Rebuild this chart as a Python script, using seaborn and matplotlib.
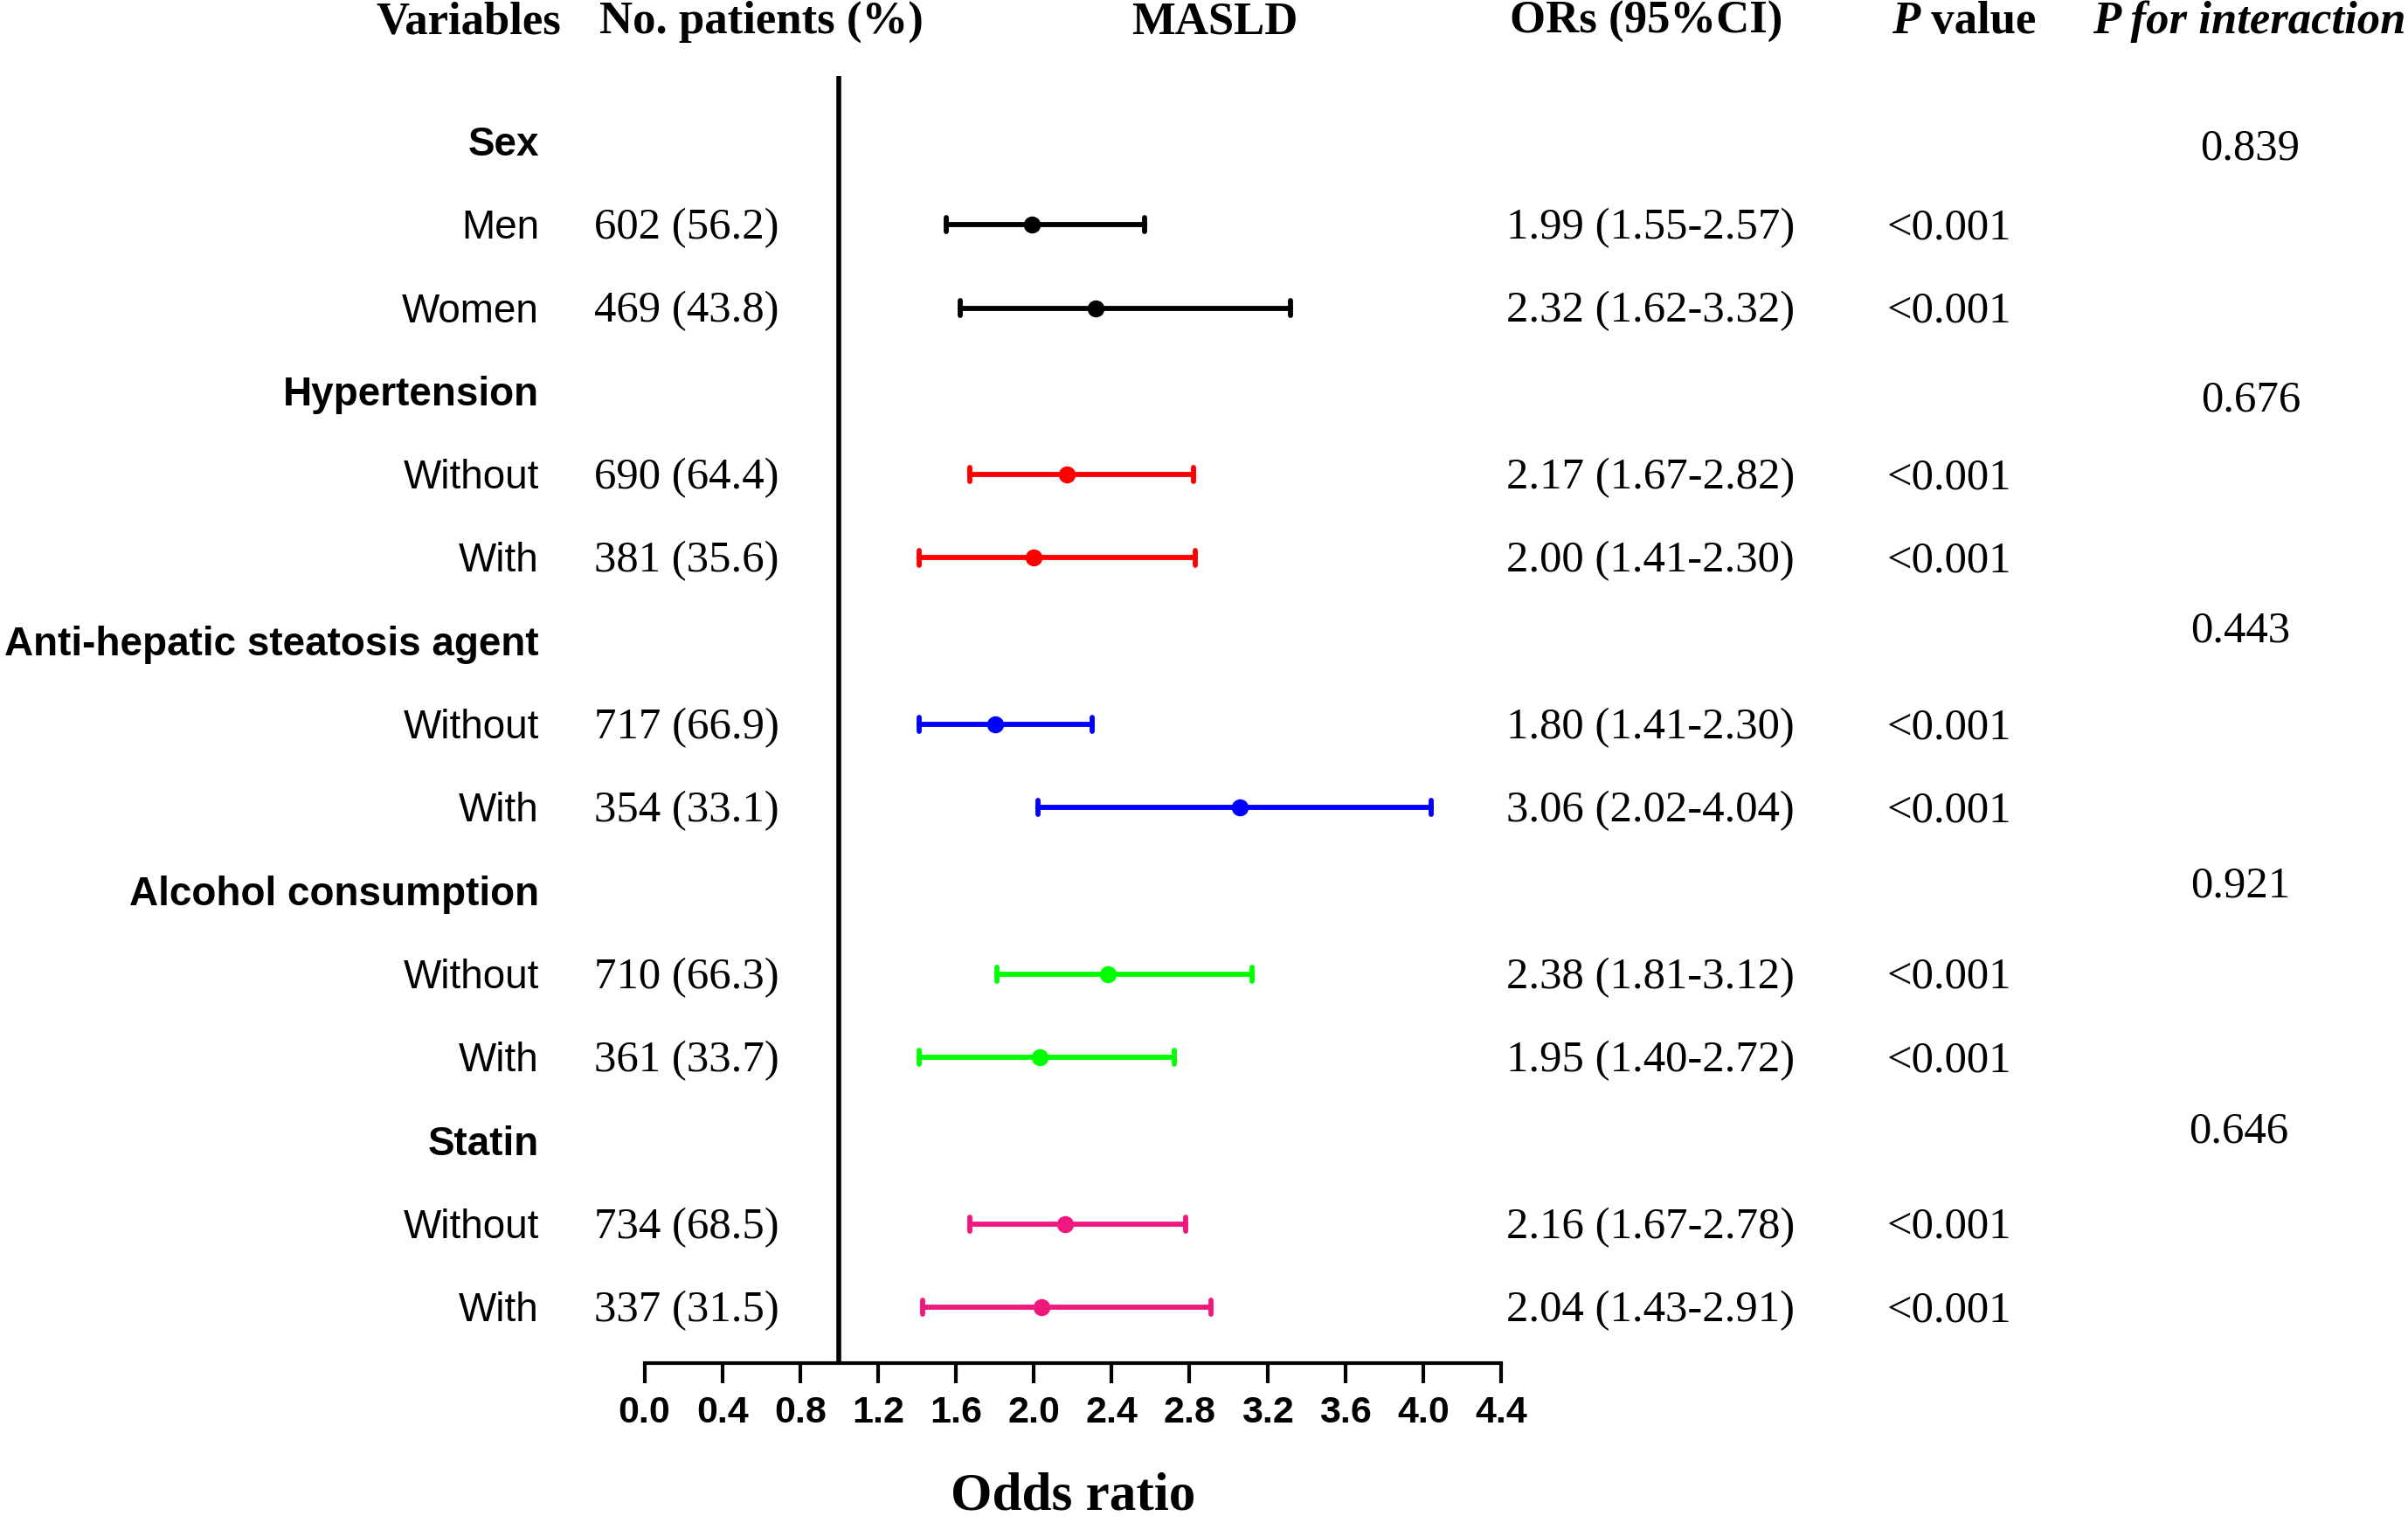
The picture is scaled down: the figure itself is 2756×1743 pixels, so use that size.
import numpy as np
import pandas as pd
import matplotlib
matplotlib.use("Agg")
import matplotlib.pyplot as plt
import matplotlib.transforms as mtransforms
import seaborn as sns

# ---------------- data ----------------
groups = ["Sex", "Hypertension", "Anti-hepatic steatosis agent",
          "Alcohol consumption", "Statin"]
subgroups = [["Men", "Women"], ["Without", "With"], ["Without", "With"],
             ["Without", "With"], ["Without", "With"]]
patients = [["602 (56.2)", "469 (43.8)"], ["690 (64.4)", "381 (35.6)"],
            ["717 (66.9)", "354 (33.1)"], ["710 (66.3)", "361 (33.7)"],
            ["734 (68.5)", "337 (31.5)"]]
or_text = [["1.99 (1.55-2.57)", "2.32 (1.62-3.32)"],
           ["2.17 (1.67-2.82)", "2.00 (1.41-2.30)"],
           ["1.80 (1.41-2.30)", "3.06 (2.02-4.04)"],
           ["2.38 (1.81-3.12)", "1.95 (1.40-2.72)"],
           ["2.16 (1.67-2.78)", "2.04 (1.43-2.91)"]]
p_values = [["<0.001", "<0.001"], ["<0.001", "<0.001"], ["<0.001", "<0.001"],
            ["<0.001", "<0.001"], ["<0.001", "<0.001"]]
p_interaction = ["0.839", "0.676", "0.443", "0.921", "0.646"]
# values as drawn in the picture
or_est = [[1.99, 2.32], [2.17, 2.00], [1.80, 3.06], [2.38, 2.03], [2.16, 2.04]]
or_low = [[1.55, 1.62], [1.67, 1.41], [1.41, 2.02], [1.81, 1.41], [1.67, 1.43]]
or_high = [[2.57, 3.32], [2.82, 2.83], [2.30, 4.04], [3.12, 2.72], [2.78, 2.91]]
x_ticks = [0.0, 0.4, 0.8, 1.2, 1.6, 2.0, 2.4, 2.8, 3.2, 3.6, 4.0, 4.4]
headers = ["Variables", "No. patients (%)", "MASLD", "ORs (95%CI)"]

# ---------------- styling / layout ----------------
colors = ["#000000", "#FF0000", "#0000FF", "#00FF00", "#F0187F"]
W, H = 2756, 1743
DPI = 100
SERIF = "Liberation Serif"
SANS = "Liberation Sans"

sns.set_theme(style="white")
plt.rcParams["font.family"] = [SANS, "DejaVu Sans"]
plt.rcParams["text.color"] = "black"
plt.rcParams["axes.labelcolor"] = "black"
plt.rcParams["xtick.color"] = "black"
plt.rcParams["ytick.color"] = "black"

fig = plt.figure(figsize=(W / DPI, H / DPI), dpi=DPI)
fig.patch.set_facecolor("white")

# forest axes: x 0..4.4 spans px 737.5..1718, top px 87, bottom px 1560
ax = fig.add_axes([737.5 / W, 1 - 1560 / H, 980.5 / W, (1560 - 87) / H])
ax.set_facecolor("none")

# long-form table: three values per row (low, estimate, high)
row_ids = [f"r{i}" for i in range(15)]
recs = []
for g, grp in enumerate(groups):
    for j in range(2):
        r = 3 * g + 1 + j
        for v in (or_low[g][j], or_est[g][j], or_high[g][j]):
            recs.append({"row": row_ids[r], "group": grp, "value": v})
df = pd.DataFrame(recs)

sns.pointplot(data=df, x="value", y="row", hue="group", order=row_ids,
              hue_order=groups, palette=colors, estimator="median",
              errorbar=lambda v: (np.min(v), np.max(v)), orient="h",
              dodge=False, linestyle="none", markers="o", markersize=12,
              capsize=0.17, err_kws={"linewidth": 4.2}, legend=False, ax=ax)

ax.set_xlim(0, 4.4)
ax.set_ylim(14.67, -0.787)
ax.axvline(1.0, color="black", linewidth=4, zorder=1)
for s in ["left", "right", "top"]:
    ax.spines[s].set_visible(False)
ax.spines["bottom"].set_linewidth(3)
ax.spines["bottom"].set_color("black")
ax.set_xticks(x_ticks)
ax.set_xticklabels([f"{t:.1f}" for t in x_ticks], fontfamily=SANS,
                   fontweight="bold", fontsize=31, color="black")
ax.tick_params(axis="x", bottom=True, direction="out", length=16.5, width=3,
               color="black", pad=10)
ax.tick_params(axis="y", left=False, labelleft=False)
ax.set_xlabel("")
ax.set_ylabel("")
ax.grid(False)

# text overlay in pixel coordinates
axt = fig.add_axes([0, 0, 1, 1])
axt.set_xlim(0, W)
axt.set_ylim(H, 0)
axt.axis("off")
axt.set_facecolor("none")

hdr_kw = dict(fontfamily=SERIF, fontweight="bold", fontsize=38, va="baseline",
              color="black")
axt.text(536, 38, headers[0], ha="center", **hdr_kw)
axt.text(871, 38, headers[1], ha="center", **hdr_kw)
axt.text(1390, 38, headers[2], ha="center", **hdr_kw)
axt.text(1884, 38, headers[3], ha="center", **hdr_kw)
tP = axt.text(2165, 38, "P", ha="left", fontstyle="italic", **hdr_kw)
axt.annotate(" value", xy=(1, 0), xycoords=tP, ha="left", va="bottom",
             fontfamily=SERIF, fontweight="bold", fontsize=38, color="black")
axt.text(2574, 38, "P for interaction", ha="center", fontstyle="italic",
         **hdr_kw)

axt.text(1228, 1727, "Odds ratio", ha="center", va="baseline",
         fontfamily=SERIF, fontweight="bold", fontsize=44, color="black")

blend = mtransforms.blended_transform_factory(axt.transData, ax.transData)
base = mtransforms.offset_copy(blend, fig=fig, y=-16, units="dots")

pint_x = [2575, 2576, 2564, 2564, 2562]
pint_dy = [21, 23, 1, 7, 2]
lab_kw = dict(fontfamily=SANS, fontsize=33, va="baseline", ha="right",
              color="black")
num_kw = dict(fontfamily=SERIF, fontsize=36.5, va="baseline", ha="left",
              color="black")
for g, grp in enumerate(groups):
    rh = 3 * g
    axt.text(617, rh, grp, fontweight="bold", transform=base, **lab_kw)
    tr = mtransforms.offset_copy(blend, fig=fig, y=-pint_dy[g], units="dots")
    axt.text(pint_x[g], rh, p_interaction[g], transform=tr,
             fontfamily=SERIF, fontsize=36.5, va="baseline", ha="center",
             color="black")
    for j in range(2):
        r = rh + 1 + j
        axt.text(617, r, subgroups[g][j], transform=base, **lab_kw)
        axt.text(680, r, patients[g][j], transform=base, **num_kw)
        axt.text(1724, r, or_text[g][j], transform=base, **num_kw)
        axt.text(2160, r, p_values[g][j], transform=base, **num_kw)

fig.savefig("out.png", dpi=DPI, facecolor="white")
